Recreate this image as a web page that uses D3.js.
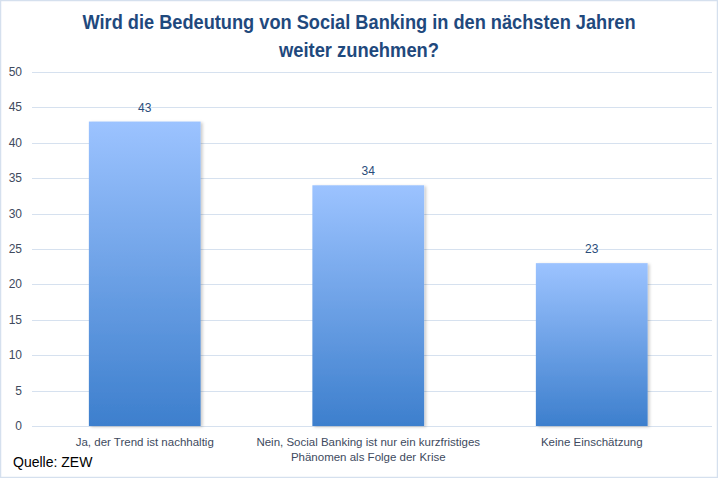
<!DOCTYPE html>
<html><head><meta charset="utf-8">
<script src="https://cdn.jsdelivr.net/npm/d3@7"></script>
<style>body{margin:0;background:#fff}svg{display:block}</style>
</head><body>
<script>
const categories = [["Ja, der Trend ist nachhaltig"], ["Nein, Social Banking ist nur ein kurzfristiges", "Phänomen als Folge der Krise"], ["Keine Einschätzung"]];
const values = [43, 34, 23];
const yTicks = [0, 5, 10, 15, 20, 25, 30, 35, 40, 45, 50];
const titleLines = ["Wird die Bedeutung von Social Banking in den nächsten Jahren", "weiter zunehmen?"];
const source = "Quelle: ZEW";

const W = 718, H = 478;
const svg = d3.select("body").append("svg").attr("width", W).attr("height", H);
const defs = svg.append("defs");
const grad = defs.append("linearGradient").attr("id", "g").attr("x1", 0).attr("y1", 0).attr("x2", 0).attr("y2", 1);
grad.append("stop").attr("offset", "0%").attr("stop-color", "#9cc3ff");
grad.append("stop").attr("offset", "100%").attr("stop-color", "#3d7fcd");
const f = defs.append("filter").attr("id", "sh").attr("x", "-10%").attr("y", "-10%").attr("width", "130%").attr("height", "130%");
f.append("feDropShadow").attr("dx", 2).attr("dy", 1).attr("stdDeviation", 1.5).attr("flood-color", "#000").attr("flood-opacity", 0.2);

svg.append("rect").attr("x", 0.5).attr("y", 0.5).attr("width", W - 1).attr("height", H - 1)
  .attr("fill", "#fff").attr("stroke", "#d5e0ee").attr("stroke-width", 1.5);

const font = "'Liberation Sans', Arial, sans-serif";
const titleLens = [553, 160];

svg.append("g").selectAll("text").data(titleLines).join("text")
  .attr("x", 359).attr("y", (d, i) => 29 + i * 28)
  .attr("text-anchor", "middle").attr("font-family", font).attr("font-weight", "bold")
  .attr("font-size", 20).attr("fill", "#1f497d")
  .attr("textLength", (d, i) => titleLens[i]).attr("lengthAdjust", "spacingAndGlyphs")
  .text(d => d);

const x = d3.scaleBand().domain(d3.range(values.length)).range([33, 703.5]).paddingInner(0.5).paddingOuter(0.25);
const y = d3.scaleLinear().domain([0, 50]).range([426, 72]);

const grid = svg.append("g");
grid.selectAll("line").data(yTicks).join("line")
  .attr("x1", 32).attr("x2", 712).attr("y1", d => Math.round(y(d)) + 0.5).attr("y2", d => Math.round(y(d)) + 0.5)
  .attr("stroke", "#d6e1ef").attr("stroke-width", 1);
grid.selectAll("text").data(yTicks).join("text")
  .attr("x", 22).attr("y", d => y(d) + 4).attr("text-anchor", "end")
  .attr("font-family", font).attr("font-size", 12).attr("fill", "#404a5e").text(d => d);

svg.append("g").selectAll("rect").data(values).join("rect")
  .attr("x", (d, i) => x(i)).attr("width", x.bandwidth())
  .attr("y", d => y(d)).attr("height", d => y(0) - y(d))
  .attr("fill", "url(#g)").attr("filter", "url(#sh)");

svg.append("g").selectAll("text").data(values).join("text")
  .attr("x", (d, i) => x(i) + x.bandwidth() / 2).attr("y", d => y(d) - 10)
  .attr("text-anchor", "middle").attr("font-family", font).attr("font-size", 12)
  .attr("fill", "#2a4d7a").text(d => d);

const cat = svg.append("g");
categories.forEach((lines, i) => {
  lines.forEach((l, j) => {
    cat.append("text").attr("x", x(i) + x.bandwidth() / 2).attr("y", 446 + j * 15)
      .attr("text-anchor", "middle").attr("font-family", font).attr("font-size", 11.5)
      .attr("fill", "#404a5e").text(l);
  });
});

svg.append("text").attr("x", 13).attr("y", 467).attr("font-family", font).attr("font-size", 14)
  .attr("fill", "#000").text(source);
</script>
</body></html>
